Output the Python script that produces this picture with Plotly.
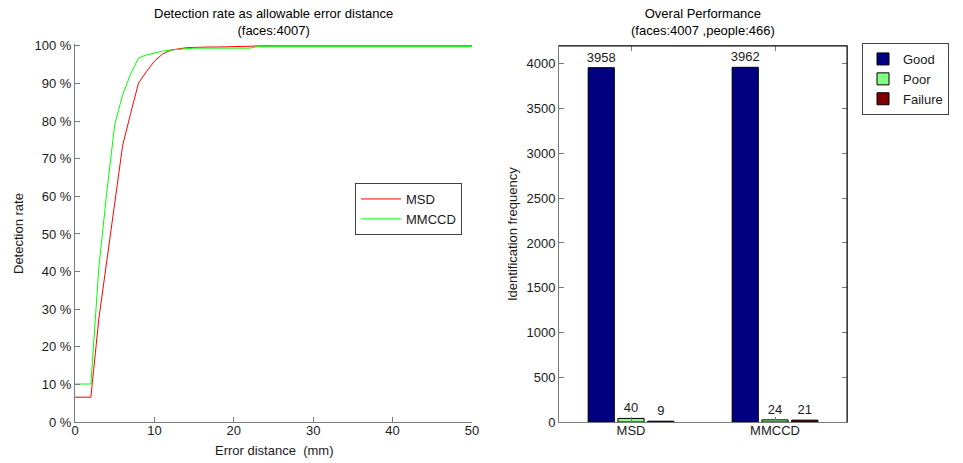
import plotly.graph_objects as go

# ---------------- data ----------------
error_mm = list(range(0, 51))
msd_rate = [6.6, 6.6, 6.6, 27.4, 43.0, 58.5, 73.5, 82.0, 90.1, 93.2, 95.9, 97.8, 98.8,
            99.2, 99.5, 99.6, 99.7, 99.7, 99.7, 99.7, 99.7, 99.9, 99.9,
            100.0, 100.0, 100.0, 100.0, 100.0, 100.0, 100.0, 100.0, 100.0, 100.0,
            100.0, 100.0, 100.0, 100.0, 100.0, 100.0, 100.0, 100.0, 100.0, 100.0,
            100.0, 100.0, 100.0, 100.0, 100.0, 100.0, 100.0, 100.0]
mmccd_rate = [10.1, 10.1, 10.1, 41.0, 61.0, 79.0, 87.0, 92.5, 96.8, 97.6, 98.2, 98.6, 98.9,
              99.1, 99.3, 99.4, 99.4, 99.4, 99.4, 99.4, 99.4, 99.4, 99.4,
              99.8, 99.8, 99.8, 99.8, 99.8, 99.8, 99.8, 99.8, 99.8, 99.8,
              99.8, 99.8, 99.8, 99.8, 99.8, 99.8, 99.8, 99.8, 99.8, 99.8,
              99.8, 99.8, 99.8, 99.8, 99.8, 99.8, 99.8, 99.8]

methods = ["MSD", "MMCCD"]
good = [3958, 3962]
poor = [40, 24]
failure = [9, 21]

pct_ticks = [0, 10, 20, 30, 40, 50, 60, 70, 80, 90, 100]
pct_labels = ["0 %", "10 %", "20 %", "30 %", "40 %", "50 %", "60 %", "70 %", "80 %",
              "90 %", "100 %"]
x_ticks = [0, 10, 20, 30, 40, 50]
freq_ticks = [0, 500, 1000, 1500, 2000, 2500, 3000, 3500, 4000]

FONT = "Liberation Sans, Arial, sans-serif"
TXT = "#1a1a1a"
AX = "#7a7a7a"
FS = 13

fig = go.Figure()

fig.add_trace(go.Scatter(x=error_mm, y=msd_rate, mode="lines", name="MSD",
                         line=dict(color="#ff0000", width=1), xaxis="x", yaxis="y",
                         legend="legend"))
fig.add_trace(go.Scatter(x=error_mm, y=mmccd_rate, mode="lines", name="MMCCD",
                         line=dict(color="#00ff00", width=1), xaxis="x", yaxis="y",
                         legend="legend"))

for name, vals, col in [("Good", good, "#000080"), ("Poor", poor, "#80ff80"),
                        ("Failure", failure, "#800000")]:
    fig.add_trace(go.Bar(x=methods, y=vals, name=name, text=[str(v) for v in vals],
                         textposition="outside", cliponaxis=False, constraintext="none",
                         textfont=dict(family=FONT, size=FS, color=TXT),
                         marker=dict(color=col, line=dict(color="#000000", width=1)),
                         xaxis="x2", yaxis="y2", legend="legend2"))

H = 463.0
W = 963.0

def py(p):
    return (H - p) / H

def px(p):
    return p / W

common = dict(showline=True, linecolor=AX, linewidth=1, ticks="inside", ticklen=5,
              tickcolor=AX, tickwidth=1, showgrid=False, zeroline=False,
              tickfont=dict(size=FS, color=TXT), automargin=False)

fig.update_layout(
    width=963, height=463,
    margin=dict(l=0, r=0, t=0, b=0, autoexpand=False),
    paper_bgcolor="white", plot_bgcolor="white",
    font=dict(family=FONT, size=FS, color=TXT),
    barmode="group", bargap=0.38, bargroupgap=0.12,
    xaxis=dict(domain=[px(75), px(472)], range=[0, 50], tickvals=x_ticks,
               ticklabelstandoff=-4, anchor="y", **common),
    yaxis=dict(domain=[py(422), py(44)], range=[0, 100.5], tickvals=pct_ticks,
               ticktext=pct_labels, anchor="x", **common),
    xaxis2=dict(domain=[px(559), px(847)], mirror="allticks", ticklabelstandoff=-4,
                anchor="y2", **common),
    yaxis2=dict(domain=[py(422), py(46)], range=[0, 4200], tickvals=freq_ticks,
                mirror="allticks", anchor="x2", **common),
    legend=dict(x=px(355), y=py(183), xanchor="left", yanchor="top",
                bgcolor="white", bordercolor="#404040", borderwidth=1,
                font=dict(size=FS, color=TXT), itemwidth=40, tracegroupgap=0),
    legend2=dict(x=px(862), y=py(43), xanchor="left", yanchor="top",
                 bgcolor="white", bordercolor="#404040", borderwidth=1,
                 font=dict(size=FS, color=TXT), tracegroupgap=0),
    shapes=[
        dict(type="line", xref="x2 domain", yref="y2 domain", x0=0, x1=1, y0=1, y1=1,
             line=dict(color="#000000", width=1)),
        dict(type="line", xref="x2 domain", yref="y2 domain", x0=1, x1=1, y0=0, y1=1,
             line=dict(color="#000000", width=1)),
    ],
    annotations=[
        dict(text="Detection rate as allowable error distance<br>(faces:4007)",
             xref="paper", yref="paper", x=(px(75) + px(472)) / 2, y=py(40),
             xanchor="center", yanchor="bottom", showarrow=False,
             font=dict(size=FS, color="#000000")),
        dict(text="Overal Performance<br>(faces:4007 ,people:466)",
             xref="paper", yref="paper", x=(px(559) + px(847)) / 2, y=py(40),
             xanchor="center", yanchor="bottom", showarrow=False,
             font=dict(size=FS, color="#000000")),
        dict(text="Error distance  (mm)", xref="paper", yref="paper",
             x=(px(75) + px(472)) / 2, y=py(450), xanchor="center", yanchor="middle",
             showarrow=False, font=dict(size=FS, color=TXT)),
        dict(text="Detection rate", xref="paper", yref="paper", x=px(18), y=py(234),
             xanchor="center", yanchor="middle", textangle=-90, showarrow=False,
             font=dict(size=FS, color=TXT)),
        dict(text="Identification frequency", xref="paper", yref="paper", x=px(512),
             y=py(234), xanchor="center", yanchor="middle", textangle=-90,
             showarrow=False, font=dict(size=FS, color=TXT)),
    ],
)

fig.write_html("out.html")
